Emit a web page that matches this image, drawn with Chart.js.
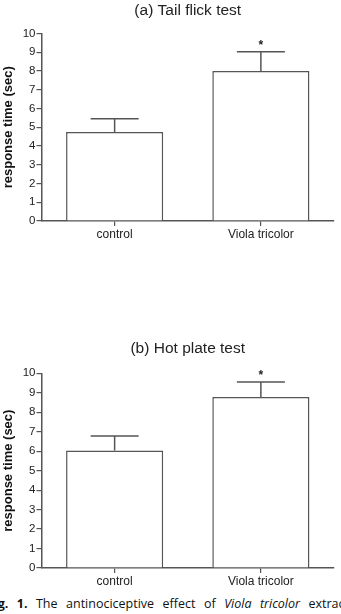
<!DOCTYPE html>
<html><head><meta charset="utf-8">
<script src="https://cdn.jsdelivr.net/npm/chart.js@4"></script>
<style>
html,body{margin:0;padding:0;background:#fff;width:341px;height:614px;overflow:hidden;position:relative;}
.c{position:absolute;left:0;width:341px;}
#cap{position:absolute;left:-13px;top:595px;width:362px;font-family:"Open Sans","Noto Sans",sans-serif;font-size:12.5px;line-height:17px;color:#111;white-space:nowrap;text-align:justify;text-align-last:justify;}
</style></head><body>
<div class="c" style="top:0;height:245px"><canvas id="c1" width="341" height="245"></canvas></div>
<div class="c" style="top:325px;height:267px"><canvas id="c2" width="341" height="267"></canvas></div>
<div id="cap"><b>Fig. 1.</b> The antinociceptive effect of <i>Viola tricolor</i> extract</div>
<script>
const categories = ["control", "Viola tricolor"];
const tailFlickMeans = [4.75, 8.0];
const tailFlickSEM = [0.7, 1.03];
const hotPlateMeans = [6.03, 8.78];
const hotPlateSEM = [0.75, 0.77];
const significance = ["", "*"];
const yTicks = [0,1,2,3,4,5,6,7,8,9,10];

const FONT = "'Liberation Sans', Arial, sans-serif";
const AX = '#555';

const errorBars = {
  id: 'errorBars',
  afterDatasetsDraw(chart, args, opts) {
    const ctx = chart.ctx;
    const meta = chart.getDatasetMeta(0);
    const y = chart.scales.y;
    ctx.save();
    ctx.strokeStyle = AX;
    ctx.lineWidth = 1.5;
    meta.data.forEach((bar, i) => {
      const v = opts.values[i], e = opts.errors[i];
      const y0 = y.getPixelForValue(v), y1 = y.getPixelForValue(v + e);
      ctx.beginPath();
      ctx.moveTo(bar.x, y0); ctx.lineTo(bar.x, y1);
      ctx.moveTo(bar.x - 24, y1); ctx.lineTo(bar.x + 24, y1);
      ctx.stroke();
      if (opts.marks[i]) {
        ctx.fillStyle = '#222';
        ctx.font = "bold 12px " + FONT;
        ctx.textAlign = 'center';
        ctx.textBaseline = 'middle';
        ctx.fillText(opts.marks[i], bar.x, y1 - 6);
      }
    });
    ctx.restore();
  }
};

const areaTitle = {
  id: 'areaTitle',
  afterDraw(chart, args, opts) {
    const ctx = chart.ctx, a = chart.chartArea;
    ctx.save();
    ctx.fillStyle = '#222';
    ctx.font = "15.5px " + FONT;
    ctx.textAlign = 'center';
    ctx.textBaseline = 'middle';
    ctx.fillText(opts.text, (a.left + a.right) / 2, opts.y);
    ctx.restore();
  }
};

function makeChart(id, title, values, errors, titleY, topPad) {
  return new Chart(document.getElementById(id), {
    type: 'bar',
    data: { labels: categories, datasets: [{
      data: values,
      backgroundColor: '#fff',
      borderColor: AX,
      borderWidth: 1.5,
      borderSkipped: 'bottom',
      barPercentage: 0.664,
      categoryPercentage: 1.0
    }]},
    options: {
      responsive: false,
      animation: false,
      devicePixelRatio: 1,
      layout: { padding: { left: 0, right: 7, top: topPad, bottom: 0 } },
      plugins: {
        legend: { display: false },
        tooltip: { enabled: false },
        title: { display: false },
        areaTitle: { text: title, y: titleY },
        errorBars: { values: values, errors: errors, marks: significance }
      },
      scales: {
        x: {
          grid: { display: true, offset: false, drawOnChartArea: false, drawTicks: true, tickLength: 5, color: AX, lineWidth: 1.2 },
          border: { color: AX, width: 1.5 },
          ticks: { color: '#222', font: { family: FONT, size: 12 }, padding: 1 },
          afterFit(s) { s.height = 24; }
        },
        y: {
          min: 0, max: 10,
          afterBuildTicks(s) { s.ticks = yTicks.map(v => ({ value: v })); },
          grid: { display: true, drawOnChartArea: false, drawTicks: true, tickLength: 5, color: AX, lineWidth: 1.2 },
          border: { color: AX, width: 1.5 },
          ticks: { color: '#222', font: { family: FONT, size: 11.5 }, padding: 1 },
          title: { display: true, text: 'response time (sec)', color: '#111',
            font: { family: FONT, size: 13, weight: 'bold' }, padding: { top: 1, bottom: 0 } },
          afterFit(s) { s.width = 41.5; }
        }
      }
    },
    plugins: [errorBars, areaTitle]
  });
}

makeChart('c1', '(a) Tail flick test', tailFlickMeans, tailFlickSEM, 11, 33.5);
makeChart('c2', '(b) Hot plate test', hotPlateMeans, hotPlateSEM, 24, 48.3);
</script>
</body></html>
